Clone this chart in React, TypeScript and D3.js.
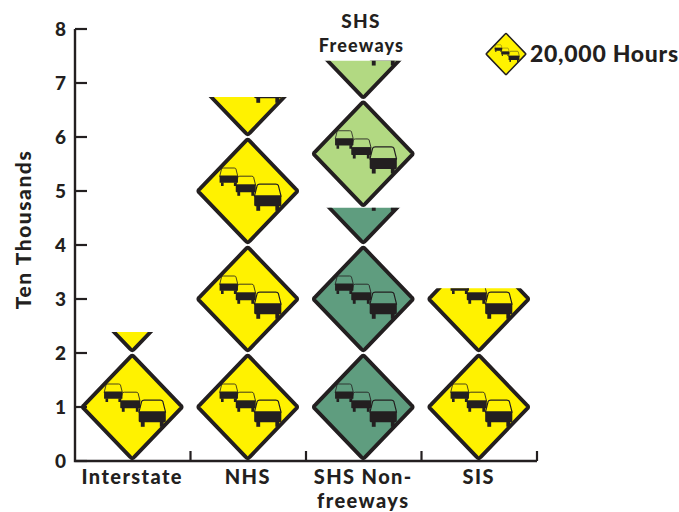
import React from "react";
import * as d3 from "d3";

const categories = ["Interstate", "NHS", "SHS Non-freeways", "SIS"];
const categoryLines = [["Interstate"], ["NHS"], ["SHS Non-", "freeways"], ["SIS"]];
const baseValues = [2.39, 6.74, 4.69, 3.2];
const baseColors = ["#fff200", "#fff200", "#5f9d7f", "#fff200"];
const stackedValues = [0, 0, 2.72, 0];
const stackedColors = ["none", "none", "#b2d982", "none"];
const yTicks = [0, 1, 2, 3, 4, 5, 6, 7, 8];
const signUnits = 2;
const ink = "#231f20";
const font = "Lato, 'Open Sans', sans-serif";

const y = d3.scaleLinear().domain([0, 8]).range([461, 29]);
const x = d3.scaleBand<string>().domain(categories).range([75, 537]);

function Car({ cx, cy, s }: { cx: number; cy: number; s: number }) {
  return (
    <g transform={`translate(${cx},${cy}) scale(${s})`}>
      <path d="M-10,-1 L-8,-9 Q-7.6,-10 -6,-10 L6,-10 Q7.6,-10 8,-9 L10,-1 Z" fill="none" stroke={ink} strokeWidth={0.9} strokeLinejoin="round" />
      <rect x={-10.2} y={-1.5} width={20.4} height={8} rx={0.8} fill={ink} />
      <rect x={-8.6} y={6} width={2.9} height={4} fill={ink} />
      <rect x={5.7} y={6} width={2.9} height={4} fill={ink} />
    </g>
  );
}

function Sign({ cx, cy, fill, k = 1 }: { cx: number; cy: number; fill: string; k?: number }) {
  const w = 50 * k;
  const h = 52 * k;
  const r = 3 * k;
  const dx = r * 0.7;
  const dy = r * 0.72;
  const d = `M${cx - dx},${cy - h + dy} Q${cx},${cy - h - dy * 0.3} ${cx + dx},${cy - h + dy}
    L${cx + w - dx},${cy - dy} Q${cx + w + dx * 0.5},${cy} ${cx + w - dx},${cy + dy}
    L${cx + dx},${cy + h - dy} Q${cx},${cy + h + dy * 0.3} ${cx - dx},${cy + h - dy}
    L${cx - w + dx},${cy + dy} Q${cx - w - dx * 0.5},${cy} ${cx - w + dx},${cy - dy} Z`;
  return (
    <g>
      <path d={d} fill={fill} stroke={ink} strokeWidth={3.8 * k} strokeLinejoin="round" />
      <Car cx={cx - 19 * k} cy={cy - 14 * k} s={0.9 * k} />
      <Car cx={cx - 2 * k} cy={cy - 5 * k} s={0.98 * k} />
      <Car cx={cx + 20 * k} cy={cy + 6.5 * k} s={1.33 * k} />
    </g>
  );
}

function Stack({ id, cx, from, value, fill }: { id: string; cx: number; from: number; value: number; fill: string }) {
  const count = Math.ceil(value / signUnits);
  const indices = d3.range(count);
  const unit = y(0) - y(1);
  return (
    <g>
      <clipPath id={id}>
        <rect x={cx - 60} y={y(from + value)} width={120} height={value * unit + 1} />
      </clipPath>
      <g clipPath={`url(#${id})`}>
        {indices.map((i) => (
          <Sign key={i} cx={cx} cy={y(from + i * signUnits + signUnits / 2)} fill={fill} />
        ))}
      </g>
    </g>
  );
}

export default function App() {
  const band = x.bandwidth();
  const edges = categories.map((c) => (x(c) as number) + band);
  return (
    <svg width={679} height={512} style={{ position: "absolute", left: 0, top: 0, background: "#fff" }} fontFamily={font} fontWeight={900} fill={ink}>
      {categories.map((c, i) => {
        const cx = (x(c) as number) + band / 2 - 0.5;
        return (
          <g key={c}>
            <Stack id={`base-${i}`} cx={cx} from={0} value={baseValues[i]} fill={baseColors[i]} />
            {stackedValues[i] > 0 && (
              <Stack id={`top-${i}`} cx={cx} from={baseValues[i]} value={stackedValues[i]} fill={stackedColors[i]} />
            )}
            {categoryLines[i].map((line, j) => (
              <text key={line} x={cx} y={484 + j * 24} textAnchor="middle" fontSize={20} letterSpacing={1.4}>{line}</text>
            ))}
          </g>
        );
      })}
      <path d={`M75,${y(8)} V${y(0)} H537`} fill="none" stroke={ink} strokeWidth={2.4} />
      {yTicks.map((t) => (
        <g key={t}>
          <line x1={75} x2={87} y1={y(t)} y2={y(t)} stroke={ink} strokeWidth={2.2} />
          <text x={66} y={y(t)} dy="0.36em" textAnchor="end" fontSize={19}>{t}</text>
        </g>
      ))}
      {edges.map((e) => (
        <line key={e} x1={e} x2={e} y1={y(0)} y2={y(0) - 10} stroke={ink} strokeWidth={2.2} />
      ))}
      <text transform="translate(31,229.5) rotate(-90)" textAnchor="middle" fontSize={21} letterSpacing={1.55}>Ten Thousands</text>
      <text x={361} y={28} textAnchor="middle" fontSize={19} letterSpacing={1.3}>SHS</text>
      <text x={361.5} y={52} textAnchor="middle" fontSize={18} letterSpacing={1.2}>Freeways</text>
      <Sign cx={506} cy={54} fill="#fff200" k={0.4} />
      <text x={530} y={62} fontSize={23} letterSpacing={0.72}>20,000 Hours</text>
    </svg>
  );
}
